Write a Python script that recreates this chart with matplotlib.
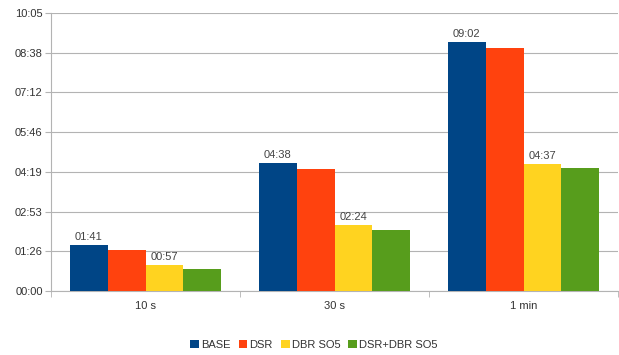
import numpy as np
import matplotlib.pyplot as plt
from matplotlib.ticker import FixedLocator, FuncFormatter

# run times in seconds for each setup
categories = ['10 s', '30 s', '1 min']
series_names = ['BASE', 'DSR', 'DBR SO5', 'DSR+DBR SO5']
base = [101, 278, 542]
dsr = [90, 265, 528]
dbr_so5 = [57, 144, 277]
dsr_dbr_so5 = [47, 133, 267]
labelled = [True, False, True, False]  # which series carry value labels

colors = ['#004586', '#ff420e', '#ffd320', '#579d1c']
plt.rcParams['font.family'] = ['Liberation Sans', 'DejaVu Sans']

def mmss(sec, pos=None):
    s = int(round(sec))
    return f"{s // 60:02d}:{s % 60:02d}"

fig = plt.figure(figsize=(6.19, 3.55), dpi=100)
ax = fig.add_axes([51 / 619, 64 / 355, 567 / 619, 278 / 355])

x = np.arange(len(categories))
width = 0.2
series = [base, dsr, dbr_so5, dsr_dbr_so5]
for i, (name, vals) in enumerate(zip(series_names, series)):
    offs = (i - 1.5) * width
    bars = ax.bar(x + offs, vals, width, color=colors[i], label=name, zorder=3)
    if labelled[i]:
        for b, v in zip(bars, vals):
            ax.text(b.get_x() + b.get_width() / 2, v + 6, mmss(v),
                    ha='center', va='bottom', fontsize=8, color='#444444')

# y axis in steps of 0.001 day
step = 86.4
yticks = [step * k for k in range(8)]
ax.set_ylim(0, yticks[-1])
ax.yaxis.set_major_locator(FixedLocator(yticks))
ax.yaxis.set_major_formatter(FuncFormatter(mmss))
ax.grid(axis='y', color='#b3b3b3', linewidth=0.8, zorder=0)

ax.set_xlim(-0.5, len(categories) - 0.5)
ax.set_xticks(x)
ax.set_xticklabels(categories)
ax.set_xticks(np.arange(len(categories) + 1) - 0.5, minor=True)
ax.tick_params(axis='x', which='major', length=0, pad=7)
ax.tick_params(axis='x', which='minor', length=4, color='#b3b3b3')
ax.tick_params(axis='y', length=4, color='#b3b3b3', pad=2)
ax.tick_params(labelsize=8, labelcolor='#333333')

for side in ['top', 'right']:
    ax.spines[side].set_visible(False)
for side in ['left', 'bottom']:
    ax.spines[side].set_color('#b3b3b3')
    ax.spines[side].set_linewidth(0.8)

fig.legend(loc='center', bbox_to_anchor=(314 / 619, 1 - 345 / 355), ncol=4,
           frameon=False, fontsize=8, handlelength=0.8, handleheight=0.8,
           handletextpad=0.2, columnspacing=0.7, labelcolor='#333333')

fig.savefig('out.png', dpi=100)
